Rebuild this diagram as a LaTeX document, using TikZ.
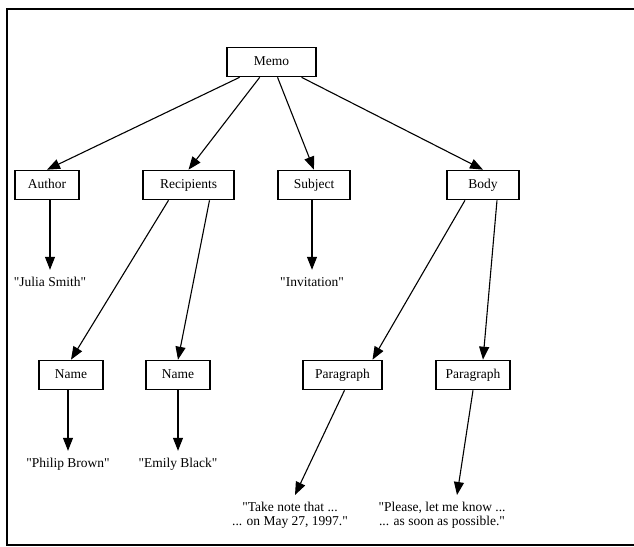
\documentclass[tikz,border=0pt]{standalone}
\usepackage{fontspec}
\setmainfont{Liberation Serif}[Ligatures=TeXOff]
\usetikzlibrary{arrows.meta}

\begin{document}
\begin{tikzpicture}[x=1pt, y=-1pt,
    font=\fontsize{13.5}{14}\selectfont,
    box/.style={draw, line width=1.6pt, minimum height=29pt, inner sep=0pt, text height=9pt, text depth=3pt},
    leaf/.style={anchor=base, inner xsep=2pt, inner ysep=7pt, text height=9pt, text depth=3pt},
    longleaf/.style={anchor=north, align=center, inner xsep=2pt, inner ysep=7pt},
    edge/.style={-{Triangle[length=13pt,width=10pt]}, line width=1.1pt}]
    \useasboundingbox (0,0) rectangle (634,546);

    % Frame (open on the right)
    \draw[line width=2pt] (640,8.5) -- (6.5,8.5) -- (6.5,544.5) -- (640,544.5);

    % Root
    \node[box, minimum width=89pt] (memo) at (271.5,62) {Memo};

    % First row
    \node[box, minimum width=64pt] (author) at (47,185) {Author};
    \node[box, minimum width=91pt] (recip) at (188.5,185) {Recipients};
    \node[box, minimum width=72pt] (subject) at (314,185) {Subject};
    \node[box, minimum width=72pt] (body) at (483,185) {Body};

    % Second row
    \node[box, minimum width=64pt] (name1) at (71,375) {Name};
    \node[box, minimum width=64pt] (name2) at (178,375) {Name};
    \node[box, minimum width=79pt] (para1) at (342.5,375) {Paragraph};
    \node[box, minimum width=74pt] (para2) at (473,375) {Paragraph};

    % Values
    \node[leaf] (julia) at (50,286) {"Julia Smith"};
    \node[leaf] (invit) at (312,286) {"Invitation"};
    \node[leaf] (philip) at (68,467) {"Philip Brown"};
    \node[leaf] (emily) at (178,467) {"Emily Black"};
    \node[longleaf] (take) at (290,495) {"Take note that ...\\... on May 27, 1997."};
    \node[longleaf] (please) at (442,495) {"Please, let me know ...\\... as soon as possible."};

    % Memo to its parts
    \draw[edge] (memo) -- (author.north);
    \draw[edge] (memo) -- (recip.north);
    \draw[edge] (memo) -- (subject.north);
    \draw[edge] (memo) -- (body.north);

    % Parts to names and paragraphs
    \draw[edge] ([xshift=-20pt]recip.south) -- (name1.north);
    \draw[edge] ([xshift=21pt]recip.south) -- (name2.north);
    \draw[edge] ([xshift=-18pt]body.south) -- ([xshift=30pt]para1.north);
    \draw[edge] ([xshift=14pt]body.south) -- ([xshift=10pt]para2.north);

    % Down to the values
    \draw[edge] (author.south -| julia) -- (julia);
    \draw[edge] (subject.south -| invit) -- (invit);
    \draw[edge] (name1.south -| philip) -- (philip);
    \draw[edge] (name2.south -| emily) -- (emily);
    \draw[edge] ([xshift=2pt]para1.south) -- ([xshift=5pt]take.north);
    \draw[edge] (para2.south) -- ([xshift=15pt]please.north);
\end{tikzpicture}
\end{document}
